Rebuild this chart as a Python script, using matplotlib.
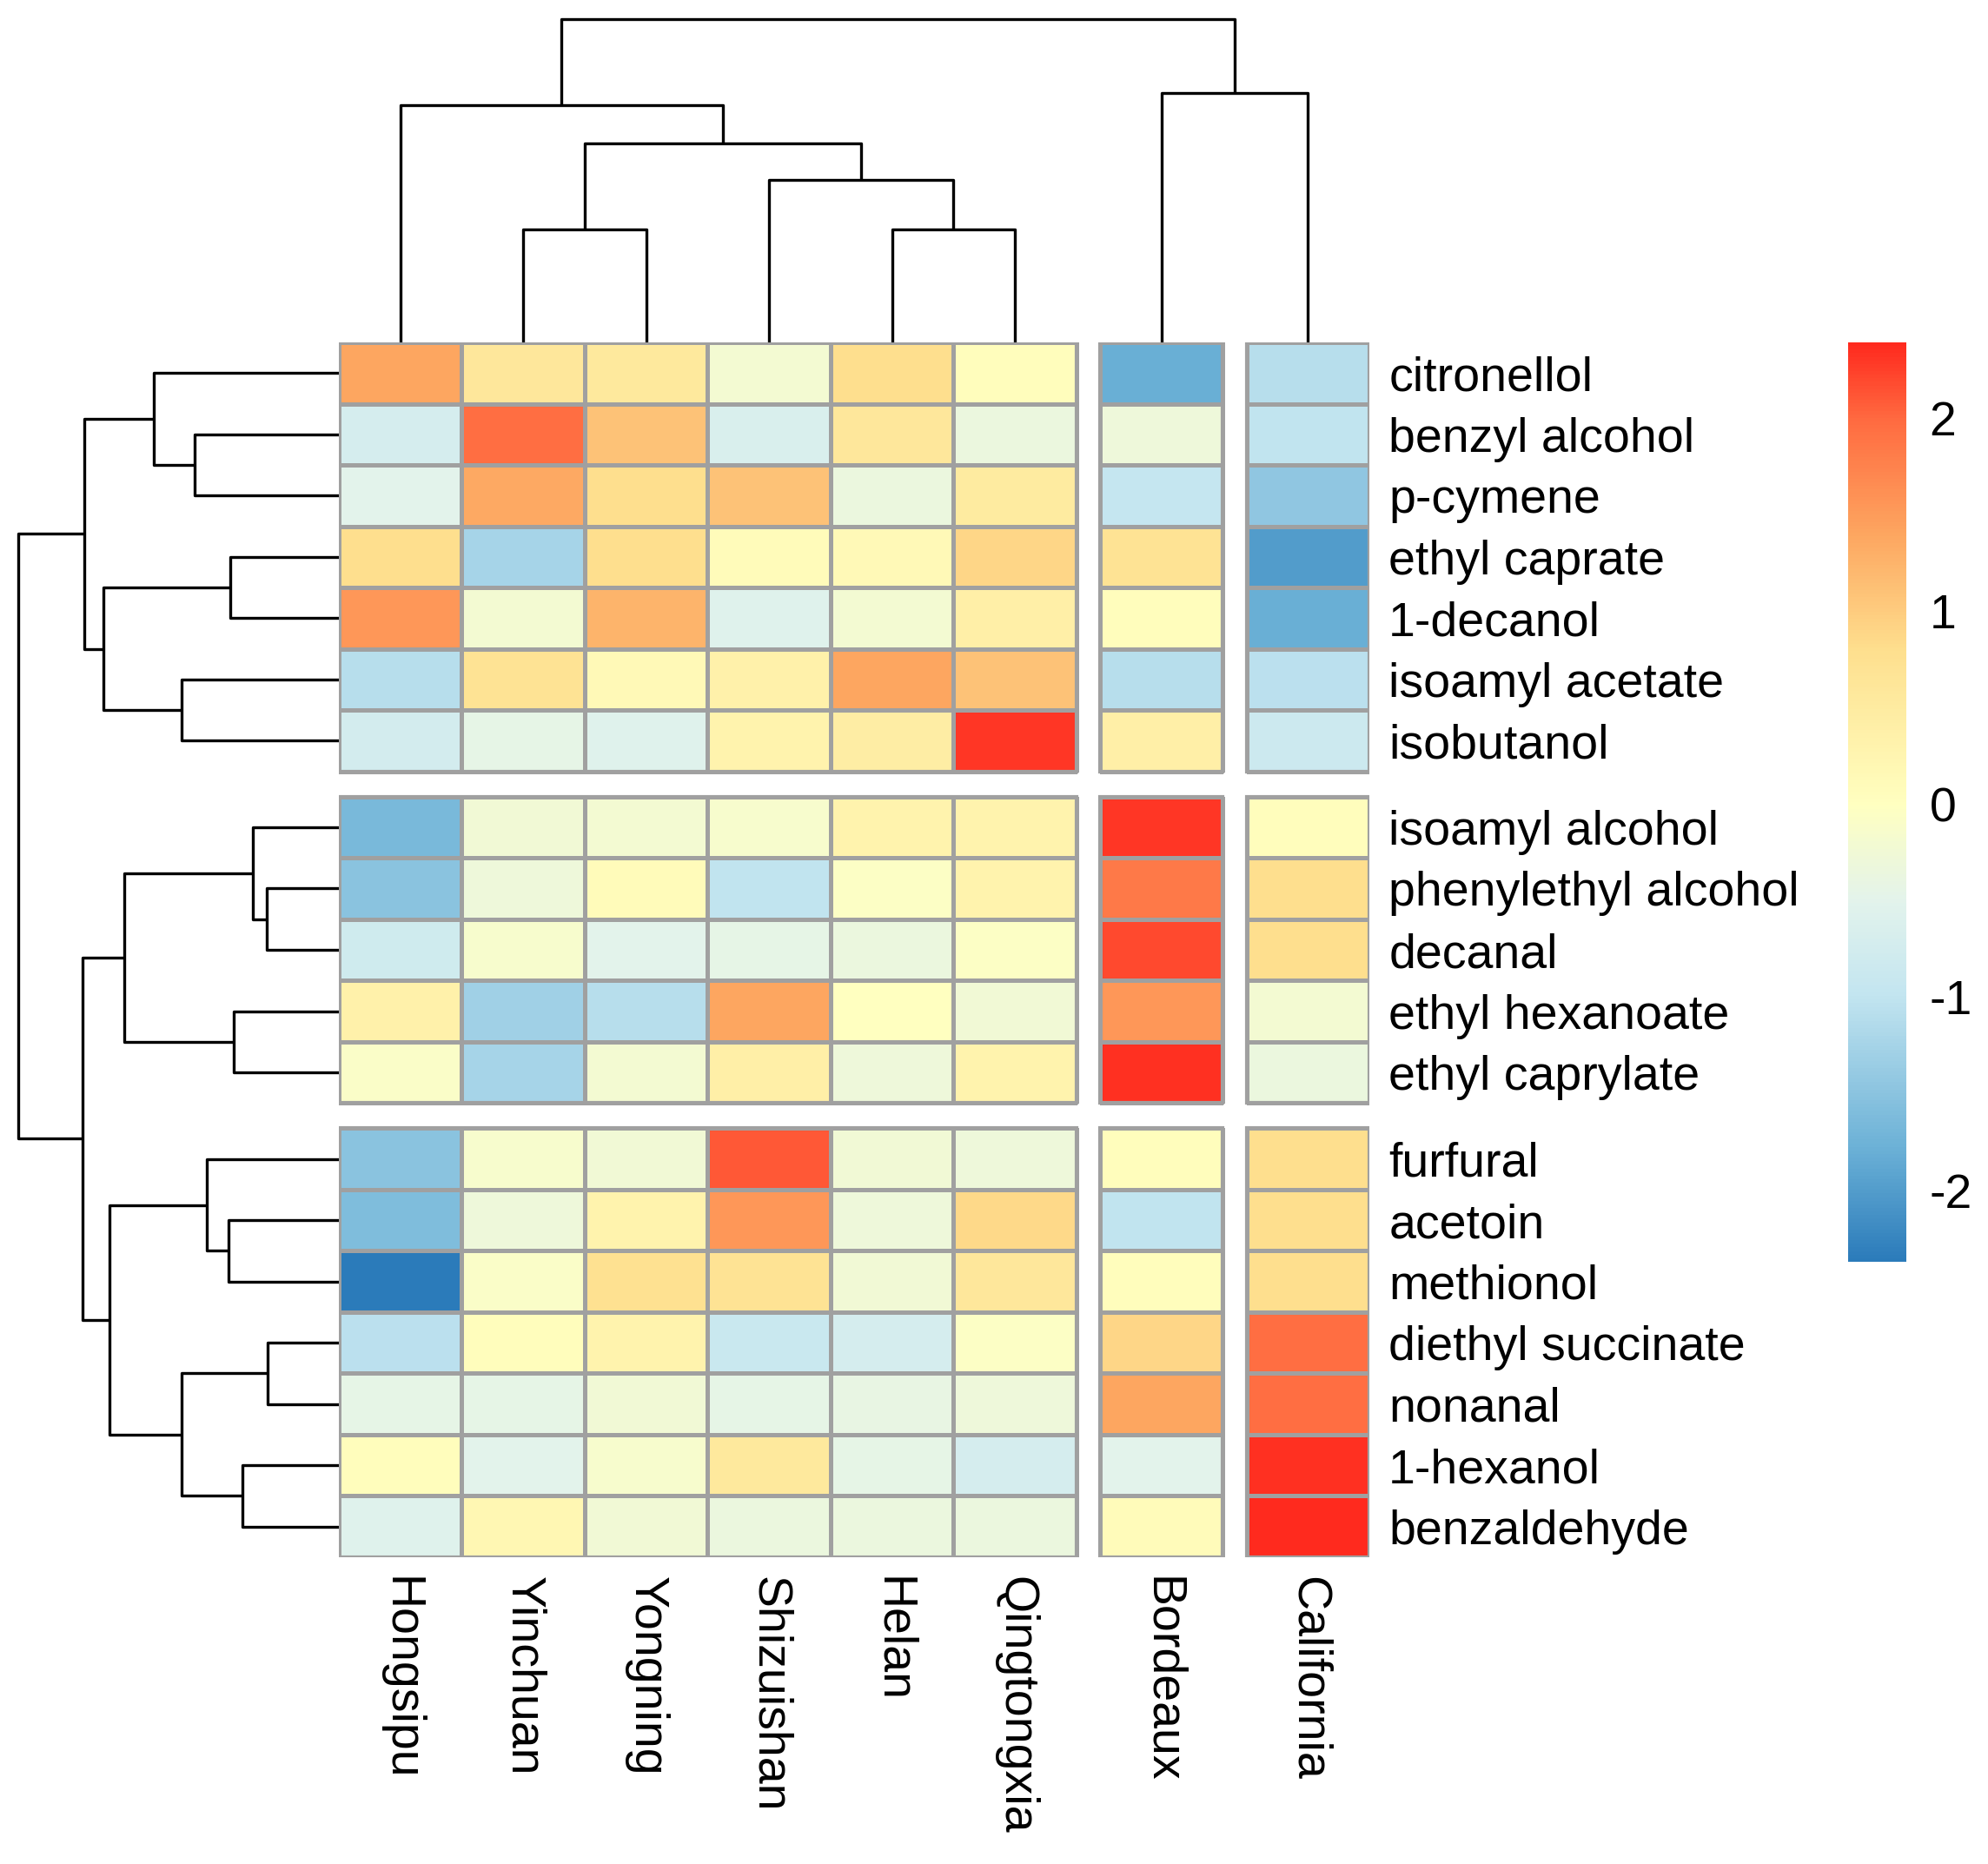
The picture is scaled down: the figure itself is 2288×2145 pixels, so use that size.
import matplotlib
matplotlib.use("Agg")
import matplotlib.pyplot as plt
import numpy as np
from matplotlib.colors import LinearSegmentedColormap, Normalize
from matplotlib.patches import Rectangle
from matplotlib.cm import ScalarMappable

plt.rcParams["font.family"] = ["Liberation Sans", "DejaVu Sans"]

compounds = [
    "citronellol", "benzyl alcohol", "p-cymene", "ethyl caprate", "1-decanol",
    "isoamyl acetate", "isobutanol", "isoamyl alcohol", "phenylethyl alcohol",
    "decanal", "ethyl hexanoate", "ethyl caprylate", "furfural", "acetoin",
    "methionol", "diethyl succinate", "nonanal", "1-hexanol", "benzaldehyde",
]
regions = ["Hongsipu", "Yinchuan", "Yongning", "Shizuishan", "Helan",
           "Qingtongxia", "Bordeaux", "California"]

# z-scores per region, in the row order above
hongsipu = [1.4, -0.7, -0.5, 0.8, 1.55, -1.1, -0.75, -1.65, -1.5, -0.8,
            0.35, -0.1, -1.5, -1.6, -2.37, -1.05, -0.45, 0.05, -0.55]
yinchuan = [0.6, 1.95, 1.35, -1.25, -0.2, 0.7, -0.45, -0.25, -0.3, -0.15,
            -1.3, -1.25, -0.15, -0.3, -0.1, 0.05, -0.45, -0.5, 0.2]
yongning = [0.55, 1.1, 0.8, 0.8, 1.25, 0.15, -0.55, -0.2, 0.1, -0.5,
            -1.1, -0.2, -0.25, 0.3, 0.75, 0.3, -0.25, -0.15, -0.25]
shizuishan = [-0.2, -0.65, 1.1, 0.1, -0.55, 0.35, 0.3, -0.15, -1.0, -0.45,
              1.4, 0.4, 2.1, 1.55, 0.7, -0.9, -0.45, 0.55, -0.35]
helan = [0.8, 0.6, -0.35, 0.15, -0.2, 1.4, 0.45, 0.3, -0.05, -0.35,
         0.0, -0.3, -0.25, -0.3, -0.25, -0.7, -0.4, -0.45, -0.35]
qingtongxia = [0.05, -0.35, 0.5, 0.9, 0.4, 1.1, 2.3, 0.3, 0.3, -0.05,
               -0.25, 0.3, -0.3, 0.85, 0.6, -0.05, -0.3, -0.7, -0.35]
bordeaux = [-1.8, -0.3, -0.95, 0.7, 0.05, -1.1, 0.4, 2.3, 1.85, 2.2,
            1.55, 2.35, 0.05, -1.0, 0.05, 0.9, 1.4, -0.5, 0.1]
california = [-1.1, -1.0, -1.45, -2.0, -1.8, -1.05, -0.85, 0.05, 0.8, 0.8,
              -0.2, -0.35, 0.8, 0.8, 0.8, 1.95, 1.95, 2.35, 2.39]

vmin, vmax = -2.37, 2.39
cbar_ticks = [-2, -1, 0, 1, 2]

# row / column cuts (group sizes)
row_groups = [7, 5, 7]
col_groups = [6, 1, 1]

# merges: (child a, child b, height); index >= n means earlier merge
row_merges = [
    (1, 2, 114), (0, 19, 146), (3, 4, 86), (5, 6, 124), (21, 22, 186),
    (20, 23, 201), (8, 9, 57), (7, 25, 68), (10, 11, 83), (26, 27, 169),
    (13, 14, 87), (12, 29, 104), (15, 16, 56), (17, 18, 76), (31, 32, 124),
    (30, 33, 181), (28, 34, 202), (24, 35, 253),
]
col_merges = [
    (1, 2, 89), (4, 5, 89), (3, 9, 128), (8, 10, 157), (0, 11, 187),
    (6, 7, 197), (12, 13, 255),
]

cmap = LinearSegmentedColormap.from_list(
    "rdylbu_custom",
    [
        (0.00, "#2B7BBA"),
        (0.12, "#6AB0D6"),
        (0.29, "#C3E5F0"),
        (0.39, "#E2F3EC"),
        (0.498, "#FFFFC0"),
        (0.666, "#FEDF8E"),
        (0.792, "#FDA660"),
        (0.918, "#FF6A40"),
        (1.00, "#FF2A1E"),
    ],
)
norm = Normalize(vmin=vmin, vmax=vmax)

data = np.array([hongsipu, yinchuan, yongning, shizuishan, helan,
                 qingtongxia, bordeaux, california]).T

W, H = 2288, 2145
fig = plt.figure(figsize=(W / 100, H / 100), dpi=100)

hm_l, hm_r, hm_t, hm_b = 390, 1576, 394, 1792
ax = fig.add_axes([hm_l / W, 1 - hm_b / H, (hm_r - hm_l) / W, (hm_b - hm_t) / H])

gap_x = 27 / 141.2
gap_y = 29 / 70.4


def group_edges(sizes, gap):
    edges, start = [], 0.0
    for s in sizes:
        edges.append(start + np.arange(s + 1))
        start += s + gap
    return edges


x_edges = group_edges(col_groups, gap_x)
y_edges = group_edges(row_groups, gap_y)
col_centers = np.concatenate([(e[:-1] + e[1:]) / 2 for e in x_edges])
row_centers = np.concatenate([(e[:-1] + e[1:]) / 2 for e in y_edges])

r0 = 0
for ye, ns in zip(y_edges, row_groups):
    c0 = 0
    for xe, nc in zip(x_edges, col_groups):
        block = data[r0:r0 + ns, c0:c0 + nc]
        ax.pcolormesh(xe, ye, block, cmap=cmap, norm=norm,
                      edgecolors="#A0A0A0", linewidth=2.2)
        ax.add_patch(Rectangle((xe[0], ye[0]), xe[-1] - xe[0], ye[-1] - ye[0],
                               fill=False, edgecolor="#A0A0A0", linewidth=3))
        c0 += nc
    r0 += ns

ax.set_xlim(x_edges[0][0], x_edges[-1][-1])
ax.set_ylim(y_edges[-1][-1], y_edges[0][0])
for s in ax.spines.values():
    s.set_visible(False)
ax.yaxis.tick_right()
ax.set_yticks(row_centers)
ax.set_yticklabels(compounds, fontsize=40)
ax.set_xticks(col_centers)
ax.set_xticklabels(regions, fontsize=40, rotation=270)
ax.tick_params(length=0, pad=16)


def draw_dendro(axd, merges, leaf_pos, orient):
    n = len(leaf_pos)
    pos = list(leaf_pos)
    hgt = [0.0] * n
    for a, b, h in merges:
        pa, pb, ha, hb = pos[a], pos[b], hgt[a], hgt[b]
        hs = [ha, h, h, hb]
        ps = [pa, pa, pb, pb]
        if orient == "left":
            axd.plot(hs, ps, color="black", lw=2.4, solid_capstyle="butt")
        else:
            axd.plot(ps, hs, color="black", lw=2.4, solid_capstyle="butt")
        pos.append((pa + pb) / 2)
        hgt.append(h)


axr = fig.add_axes([0, 1 - hm_b / H, hm_l / W, (hm_b - hm_t) / H], sharey=ax)
draw_dendro(axr, row_merges, row_centers, "left")
axr.set_xlim(hm_l / 1.459, 0)
axr.axis("off")

axc = fig.add_axes([hm_l / W, 1 - hm_t / H, (hm_r - hm_l) / W, hm_t / H], sharex=ax)
draw_dendro(axc, col_merges, col_centers, "top")
axc.set_ylim(0, hm_t / 1.459)
axc.axis("off")

cax = fig.add_axes([2127 / W, 1 - 1452 / H, 67 / W, (1452 - 394) / H])
cb = fig.colorbar(ScalarMappable(norm=norm, cmap=cmap), cax=cax, ticks=cbar_ticks)
cb.outline.set_visible(False)
cb.ax.tick_params(length=0, pad=19, labelsize=40)
cb.ax.set_yticklabels([str(t) for t in cbar_ticks])

fig.savefig("out.png", dpi=100, facecolor="white")
